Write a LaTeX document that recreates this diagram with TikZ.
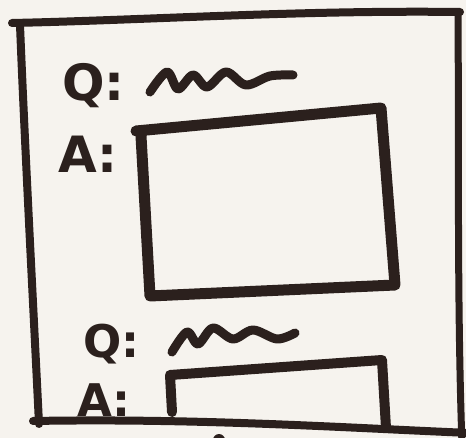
\documentclass[tikz,border=0pt]{standalone}
\usepackage{fontspec}
\setmainfont{DejaVu Sans}
\definecolor{paper}{HTML}{F6F3EE}
\definecolor{ink}{HTML}{2B201D}
\tikzset{
  pen/.style={draw=ink, line width=9pt, line cap=round, line join=round},
  penthin/.style={draw=ink, line width=8pt, line cap=round, line join=round},
  lbl/.style={text=ink, font=\bfseries\fontsize{50}{50}\selectfont, inner sep=0pt, anchor=base west},
  lblsmall/.style={lbl, font=\bfseries\fontsize{45}{45}\selectfont},
}
\begin{document}
\begin{tikzpicture}[x=1pt,y=-1pt]
\fill[paper] (0,0) rectangle (466,438);
\useasboundingbox (0,0) rectangle (466,438);
% outer frame
\coordinate (tl) at (12,23);
\coordinate (tr) at (460,12);
\coordinate (lt) at (20,25);
\coordinate (lb) at (39,424);
\coordinate (bl) at (33,421);
\coordinate (br) at (470,433);
\coordinate (rt) at (458,14);
\coordinate (rb) at (462,445);
\draw[penthin] (tl) .. controls (150,20) and (300,10) .. (tr);
\draw[penthin] (lt) .. controls (25,150) and (33,300) .. (lb);
\draw[penthin] (bl) .. controls (200,418) and (350,428) .. (br);
\draw[draw=ink, line width=7pt] (rt) .. controls (459,150) and (457,300) .. (rb);
% first Q/A
\node[lbl] (q1) at (62,101) {Q:};
\node[lbl] (a1) at (58,173) {A:};
\draw[pen] plot[smooth, tension=0.55] coordinates {(150,92) (167,72) (178,89) (193,75) (207,87) (226,72) (246,85) (270,76) (293,75)};
\coordinate (b1a) at (136,131);
\coordinate (b1b) at (381,108);
\coordinate (b1c) at (395,285);
\coordinate (b1d) at (150,296);
\draw[pen, line width=11pt] (b1a) -- (b1b) -- (b1c) -- (b1d) -- (141,136);
% second Q/A
\node[lblsmall] (q2) at (83,357) {Q:};
\node[lblsmall] (a2) at (77,416) {A:};
\draw[pen] plot[smooth, tension=0.55] coordinates {(172,352) (187,332) (198,344) (213,328) (233,339) (253,330) (277,339) (295,333)};
\coordinate (b2a) at (172,412);
\coordinate (b2b) at (170,375);
\coordinate (b2c) at (382,360);
\coordinate (b2d) at (386,428);
\draw[pen, line width=10pt] (b2a) -- (b2b) -- (b2c) -- (b2d);
% small mark at bottom
\fill[ink] (219,440) circle (6pt);
\end{tikzpicture}
\end{document}
